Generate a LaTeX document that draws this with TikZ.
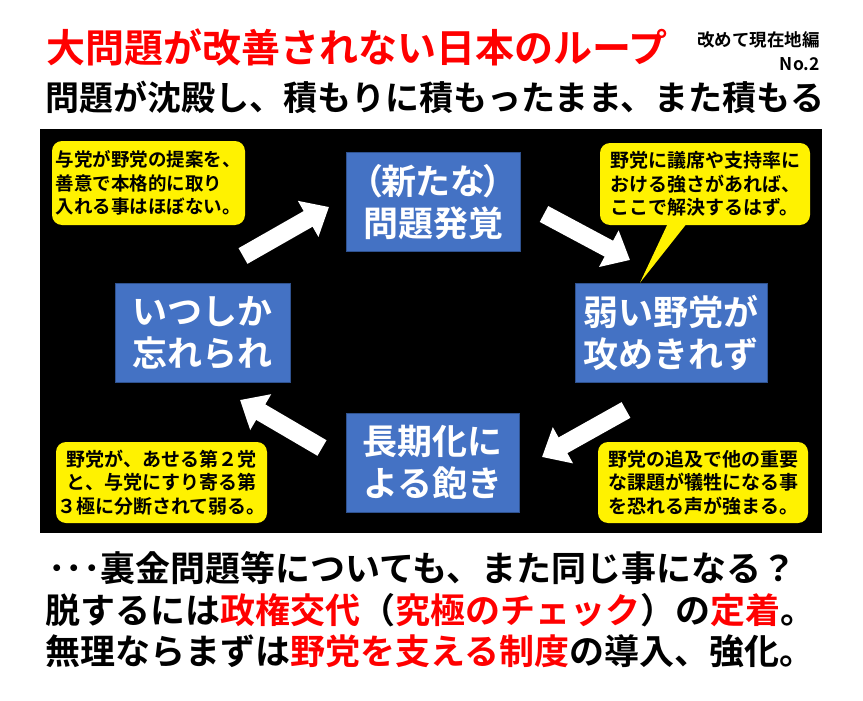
\documentclass[tikz,border=0pt]{standalone}
\usepackage{fontspec}
\setmainfont{Noto Sans CJK JP}[BoldFont={Noto Sans CJK JP Bold}]
\usetikzlibrary{arrows.meta,calc}
\definecolor{boxblue}{HTML}{4472C4}
\definecolor{boxedge}{HTML}{2F528F}
\tikzset{
  stage/.style={draw=boxedge, line width=1pt, fill=boxblue, text=white, align=center,
    font=\bfseries\fontsize{35pt}{42pt}\selectfont, minimum height=99pt, inner sep=0pt},
  note/.style={fill=yellow, rounded corners=10pt, align=left, inner xsep=1pt,
    font=\bfseries\fontsize{19pt}{23.5pt}\selectfont},
  bigarrow/.style={white, line width=18pt, -{Triangle[width=40pt,length=24pt]}},
  textline/.style={anchor=west, inner sep=0pt, font=\bfseries\fontsize{35pt}{35pt}\selectfont}
}

\begin{document}
\begin{tikzpicture}[x=1pt,y=-1pt]
  \useasboundingbox (0,0) rectangle (863,701);
  \fill[white] (0,0) rectangle (863,701);
  \fill[black] (40,129) rectangle (822,533);

  \node[textline, text=red, font=\bfseries\fontsize{39pt}{39pt}\selectfont] (title) at (46,47) {大問題が改善されない日本のループ};
  \node[anchor=east, inner sep=0pt, font=\bfseries\fontsize{17.5pt}{17.5pt}\selectfont] (part) at (820,40) {改めて現在地編};
  \node[anchor=east, inner sep=0pt, font=\bfseries\fontsize{17.5pt}{17.5pt}\selectfont] (num) at (820,64) {No.2};
  \node[textline, font=\bfseries\fontsize{34pt}{34pt}\selectfont] (sub) at (45,97.5) {問題が沈殿し、積もりに積もったまま、また積もる};

  \node[stage, minimum width=174pt] (found) at (433,202) {{\addfontfeatures{RawFeature=+palt}（新たな）}\\問題発覚};
  \node[stage, minimum width=192pt] (weak) at (671,332.5) {弱い野党が\\攻めきれず};
  \node[stage, minimum width=173pt] (bored) at (432.5,462.5) {長期化に\\よる飽き};
  \node[stage, minimum width=175pt] (forgot) at (202.5,332.5) {いつしか\\忘れられ};

  \node[note, minimum width=193pt, minimum height=84pt, font=\bfseries\fontsize{18.5pt}{23.5pt}\selectfont] (n1) at (148.5,183) {与党が野党の提案を、\\善意で本格的に取り\\入れる事はほぼない。};
  \node[note, minimum width=210pt, minimum height=82pt] (n2) at (705,184) {野党に議席や支持率に\\おける強さがあれば、\\ここで解決するはず。};
  \node[note, minimum width=211pt, minimum height=81pt, align=center] (n3) at (161.5,482.5) {野党が、あせる第２党\\と、与党にすり寄る第\\３極に分断されて弱る。};
  \node[note, minimum width=210pt, minimum height=81pt] (n4) at (703,482.5) {野党の追及で他の重要\\な課題が犠牲になる事\\を恐れる声が強まる。};

  \coordinate (tip) at ($(weak.north west)!0.34!(weak.north east)$);
  \fill[yellow] ($(n2.south)+(-37,-2)$) -- (tip) -- ($(n2.south)+(-18,-2)$) -- cycle;

  \coordinate (a1) at (243,256);
  \coordinate (b1) at (329,207);
  \coordinate (a2) at (544,214);
  \coordinate (b2) at (630,260);
  \coordinate (a3) at (626,410);
  \coordinate (b3) at (542,457);
  \coordinate (a4) at (322,448);
  \coordinate (b4) at (240,400);
  \draw[bigarrow] (a1) -- (b1);
  \draw[bigarrow] (a2) -- (b2);
  \draw[bigarrow] (a3) -- (b3);
  \draw[bigarrow] (a4) -- (b4);

  \node[textline] (l1) at (48,568) {･･･裏金問題等についても、また同じ事になる？};
  \node[textline] (l2) at (45,610) {脱するには\textcolor{red}{政権交代}（\textcolor{red}{究極のチェック}）の\textcolor{red}{定着}。};
  \node[textline] (l3) at (45,651) {無理ならまずは\textcolor{red}{野党を支える制度}の導入、強化。};
\end{tikzpicture}
\end{document}
